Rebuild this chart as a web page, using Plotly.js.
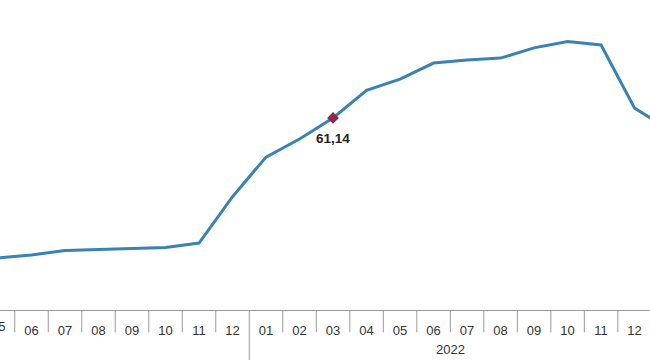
<!DOCTYPE html>
<html>
<head>
<meta charset="utf-8">
<script src="https://cdn.plot.ly/plotly-3.0.1.min.js"></script>
<style>html,body{margin:0;padding:0;background:#fff;}#chart{width:650px;height:360px;}</style>
</head>
<body>
<div id="chart"></div>
<script>
// Monthly series, 2021-05 .. 2023-01
var months = ["05","06","07","08","09","10","11","12","01","02","03","04","05","06","07","08","09","10","11","12","01"];
var years  = ["2021","2021","2021","2021","2021","2021","2021","2021","2022","2022","2022","2022","2022","2022","2022","2022","2022","2022","2022","2022","2023"];
var values = [16.59,17.53,18.95,19.25,19.58,19.89,21.31,36.08,48.69,54.44,61.14,69.97,73.50,78.62,79.60,80.21,83.45,85.51,84.39,64.27,57.68];
var highlightIndex = 10;
var highlightLabel = "61,14";

var idx = months.map(function(_, i){ return i; });
var fontFam = "Liberation Sans, Arial, sans-serif";
var xRange = [0.06, 19.46];
function toPaperX(v){ return (v - xRange[0]) / (xRange[1] - xRange[0]); }

var shapes = [];
for (var i = 0; i < idx.length - 1; i++) {
  var yearBoundary = years[i] !== years[i+1];
  shapes.push({
    type: "line", xref: "x", yref: "paper",
    x0: idx[i] + 0.5, x1: idx[i] + 0.5,
    y0: 0, y1: yearBoundary ? -0.165 : -0.072,
    line: {color: "#9a9a9a", width: 1}
  });
}

var annotations = [];
// first month label, partly cut at the left edge
annotations.push({
  x: toPaperX(idx[0]), y: -0.054, xref: "paper", yref: "paper", text: months[0],
  showarrow: false, yanchor: "middle", xanchor: "center",
  font: {family: fontFam, size: 13, color: "#333"}
});
// year group labels (centre of each full year's months)
var groups = {};
years.forEach(function(y, i){ (groups[y] = groups[y] || []).push(i); });
Object.keys(groups).forEach(function(y){
  var g = groups[y];
  if (g.length < 12) return;
  annotations.push({
    x: (g[0] + g[g.length-1]) / 2, y: -0.128, xref: "x", yref: "paper",
    text: y, showarrow: false, yanchor: "middle",
    font: {family: fontFam, size: 13, color: "#333"}
  });
});
annotations.push({
  x: idx[highlightIndex], y: values[highlightIndex], xref: "x", yref: "y",
  text: "<b>" + highlightLabel + "</b>", showarrow: false,
  yshift: -21, font: {family: fontFam, size: 13.5, color: "#222"}
});

var traces = [
  {x: idx, y: values, type: "scatter", mode: "lines",
   line: {color: "#3a82b4", width: 3}, hoverinfo: "none"},
  {x: [idx[highlightIndex]], y: [values[highlightIndex]], type: "scatter", mode: "markers",
   marker: {symbol: "diamond", size: 9, color: "#8b2a48"}, hoverinfo: "none"}
];

var layout = {
  width: 650, height: 360,
  margin: {l: 0, r: 0, t: 0, b: 50, pad: 0},
  paper_bgcolor: "#fff", plot_bgcolor: "#fff",
  showlegend: false,
  xaxis: {
    range: xRange, showgrid: false, zeroline: false,
    showline: true, linecolor: "#9a9a9a", linewidth: 1,
    tickvals: idx, ticktext: months, ticks: "", ticklabelstandoff: 8,
    tickfont: {family: fontFam, size: 13, color: "#333"}
  },
  yaxis: {range: [0, 98.7], visible: false, showgrid: false, zeroline: false},
  shapes: shapes,
  annotations: annotations
};

Plotly.newPlot("chart", traces, layout, {staticPlot: true, displayModeBar: false});
</script>
</body>
</html>
